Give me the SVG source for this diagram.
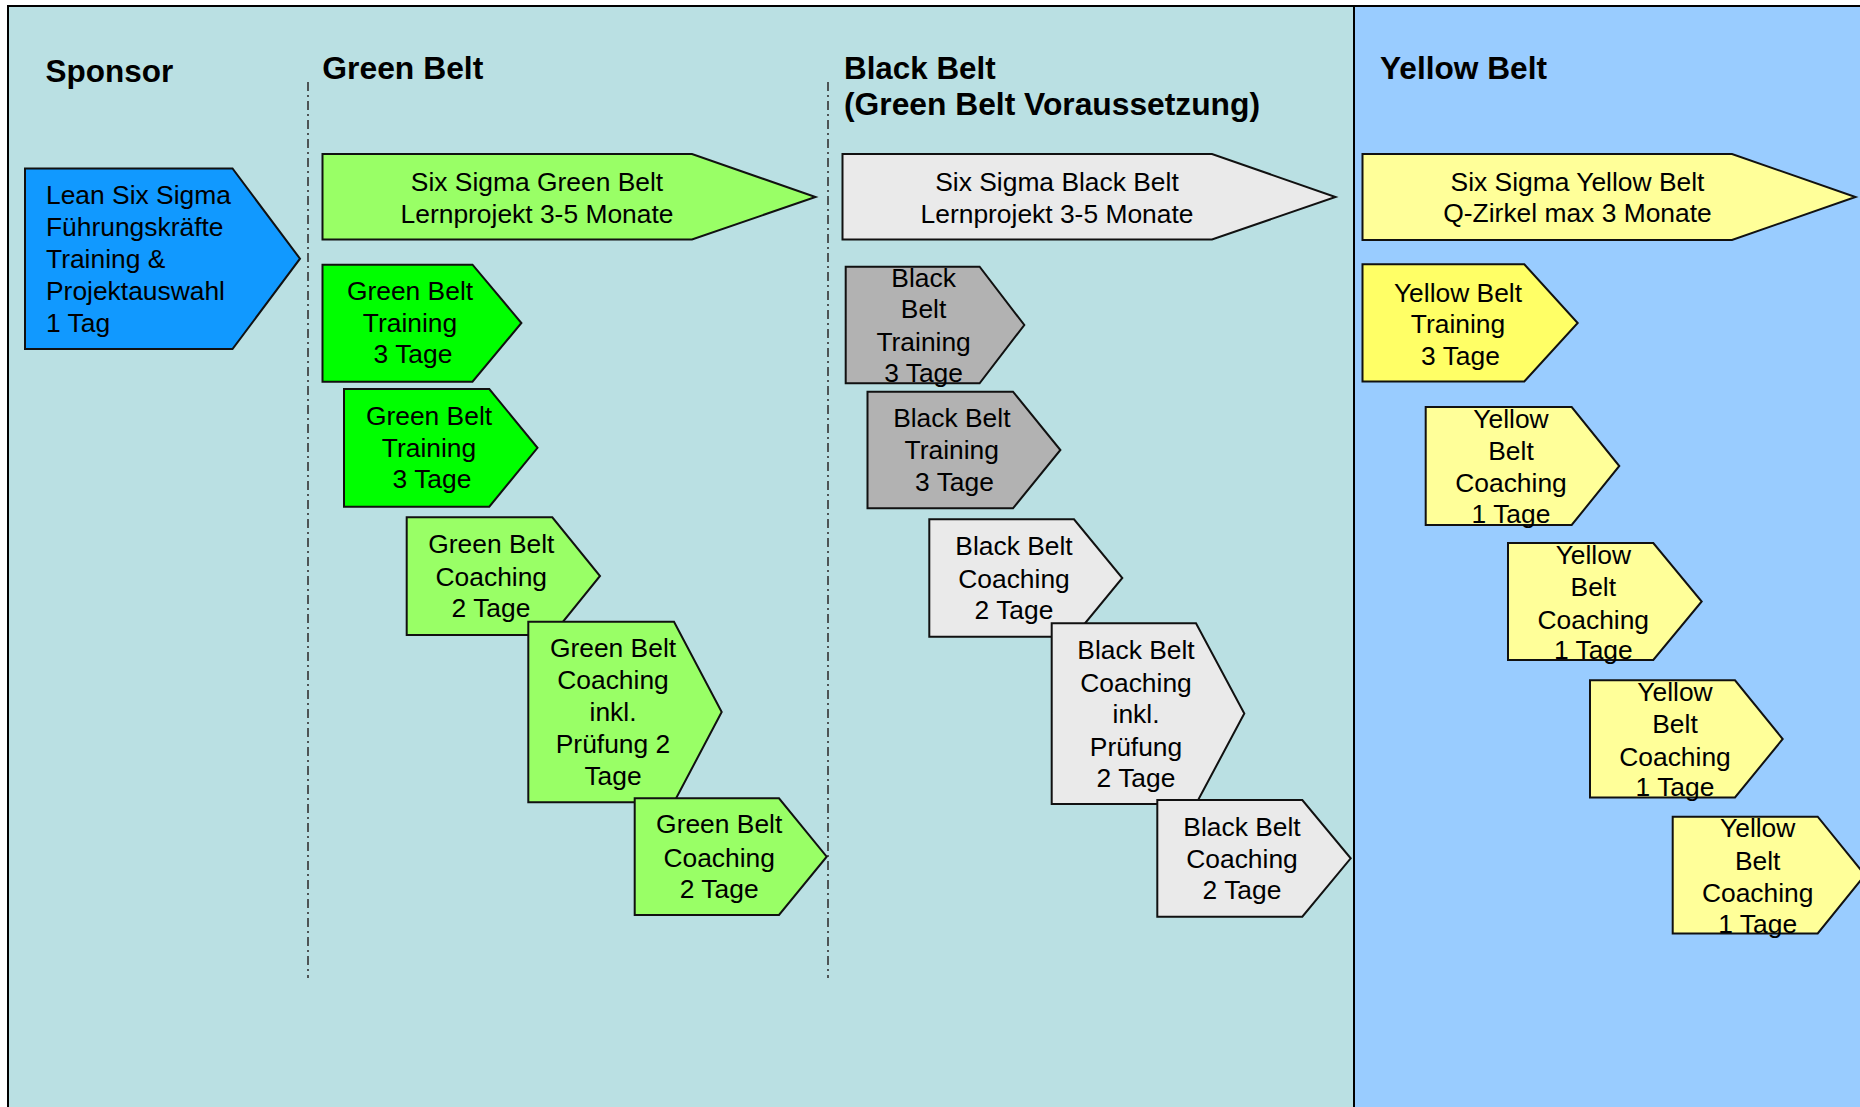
<svg xmlns="http://www.w3.org/2000/svg" width="1860" height="1107" viewBox="0 0 1860 1107">
<style>
.hdr{font-family:"Liberation Sans",Arial,sans-serif;font-weight:bold;font-size:30.5px;fill:#000}
.t{font-family:"Liberation Sans",Arial,sans-serif;font-size:26.4px;fill:#000;text-anchor:middle}
.tl{font-family:"Liberation Sans",Arial,sans-serif;font-size:26.4px;fill:#000}
.s{stroke:#111;stroke-width:2;stroke-linejoin:miter}
.div{stroke:#333;stroke-width:1.6;stroke-dasharray:9 4 2 4;fill:none}
</style>
<rect x="0" y="0" width="1860" height="1107" fill="#fff"/>
<rect x="8" y="6" width="1346" height="1110" fill="#BAE0E3"/>
<rect x="1354" y="6" width="520" height="1110" fill="#99CCFF"/>
<g id="frame">
<line x1="8" y1="6" x2="1860" y2="6" stroke="#000" stroke-width="2"/>
<line x1="8" y1="5" x2="8" y2="1107" stroke="#000" stroke-width="2"/>
<line x1="1354" y1="6" x2="1354" y2="1107" stroke="#000" stroke-width="2"/>
</g>
<g id="dividers">
<line class="div" x1="308" y1="82" x2="308" y2="978"/>
<line class="div" x1="828" y1="82" x2="828" y2="978"/>
</g>
<g id="headers">
<text class="hdr" x="45.5" y="82" textLength="127.7" lengthAdjust="spacingAndGlyphs">Sponsor</text>
<text class="hdr" x="322.3" y="79" textLength="161" lengthAdjust="spacingAndGlyphs">Green Belt</text>
<text class="hdr" x="844" y="79" textLength="151.7" lengthAdjust="spacingAndGlyphs">Black Belt</text>
<text class="hdr" x="844" y="114.5" textLength="416" lengthAdjust="spacingAndGlyphs">(Green Belt Voraussetzung)</text>
<text class="hdr" x="1380" y="79" textLength="167" lengthAdjust="spacingAndGlyphs">Yellow Belt</text>
</g>
<g id="connectors"></g>
<g id="sponsor">
<polygon class="s" fill="#1199FF" points="25,168.5 232.5,168.5 300,258.7 232.5,349 25,349"/>
<text class="tl" x="46" y="204">Lean Six Sigma</text>
<text class="tl" x="46" y="236">Führungskräfte</text>
<text class="tl" x="46" y="268">Training &amp;</text>
<text class="tl" x="46" y="300">Projektauswahl</text>
<text class="tl" x="46" y="332">1 Tag</text>
</g>
<g id="gb-main">
<polygon class="s" fill="#99FF66" points="322.5,154 692,154 815.5,197 692,239.5 322.5,239.5"/>
<text class="t" x="537" y="191">Six Sigma Green Belt</text>
<text class="t" x="537" y="222.5">Lernprojekt 3-5 Monate</text>
</g>
<g id="gb-train1">
<polygon class="s" fill="#00FF00" points="322.5,264.7 472.5,264.7 521.4,323 472.5,381.7 322.5,381.7"/>
<text class="t" x="410" y="300">Green Belt</text>
<text class="t" x="410" y="331.7">Training</text>
<text class="t" x="413" y="363.3">3 Tage</text>
</g>
<g id="gb-train2">
<polygon class="s" fill="#00FF00" points="344,389 489.3,389 537.5,447.8 489.3,506.7 344,506.7"/>
<text class="t" x="429" y="425">Green Belt</text>
<text class="t" x="429" y="456.7">Training</text>
<text class="t" x="432" y="488.3">3 Tage</text>
</g>
<g id="gb-coach1">
<polygon class="s" fill="#99FF66" points="406.7,517.3 552.3,517.3 600,576 552.3,635 406.7,635"/>
<text class="t" x="491.3" y="553.3">Green Belt</text>
<text class="t" x="491.3" y="586">Coaching</text>
<text class="t" x="491" y="617.3">2 Tage</text>
</g>
<g id="gb-coach-pruef">
<polygon class="s" fill="#99FF66" points="528.3,621.7 674,621.7 721.7,712 674,802.3 528.3,802.3"/>
<text class="t" x="613" y="656.7">Green Belt</text>
<text class="t" x="613" y="689">Coaching</text>
<text class="t" x="613" y="721">inkl.</text>
<text class="t" x="613" y="753.3">Prüfung 2</text>
<text class="t" x="613" y="785">Tage</text>
</g>
<g id="gb-coach2">
<polygon class="s" fill="#99FF66" points="634.7,798.3 779,798.3 826.7,856.7 779,915 634.7,915"/>
<text class="t" x="719.2" y="833.3">Green Belt</text>
<text class="t" x="719.2" y="866.7">Coaching</text>
<text class="t" x="719.2" y="898.3">2 Tage</text>
</g>
<g id="bb-main">
<polygon class="s" fill="#EAEAEA" points="842.5,154 1212,154 1335.5,197 1212,239.5 842.5,239.5"/>
<text class="t" x="1057" y="191">Six Sigma Black Belt</text>
<text class="t" x="1057" y="222.5">Lernprojekt 3-5 Monate</text>
</g>
<g id="bb-train1">
<polygon class="s" fill="#B2B2B2" points="845.7,266.7 979.6,266.7 1024.3,325 979.6,383.3 845.7,383.3"/>
<text class="t" x="923.6" y="286.7">Black</text>
<text class="t" x="923.6" y="318.3">Belt</text>
<text class="t" x="923.6" y="350.7">Training</text>
<text class="t" x="923.6" y="382.3">3 Tage</text>
</g>
<g id="bb-train2">
<polygon class="s" fill="#B2B2B2" points="867.5,391.7 1013,391.7 1060.4,450 1013,508.3 867.5,508.3"/>
<text class="t" x="951.8" y="426.7">Black Belt</text>
<text class="t" x="951.8" y="459.3">Training</text>
<text class="t" x="954.5" y="491">3 Tage</text>
</g>
<g id="bb-coach1">
<polygon class="s" fill="#EAEAEA" points="929.3,519.3 1074,519.3 1122.3,578 1074,636.7 929.3,636.7"/>
<text class="t" x="1014" y="555">Black Belt</text>
<text class="t" x="1014" y="587.7">Coaching</text>
<text class="t" x="1014" y="619">2 Tage</text>
</g>
<g id="bb-coach-pruef">
<polygon class="s" fill="#EAEAEA" points="1051.7,623.3 1196,623.3 1244.3,713.5 1196,804 1051.7,804"/>
<text class="t" x="1136" y="659">Black Belt</text>
<text class="t" x="1136" y="691.7">Coaching</text>
<text class="t" x="1136" y="723.3">inkl.</text>
<text class="t" x="1136" y="756">Prüfung</text>
<text class="t" x="1136" y="787.3">2 Tage</text>
</g>
<g id="bb-coach2">
<polygon class="s" fill="#EAEAEA" points="1157.3,800 1302.3,800 1350.7,858.3 1302.3,916.7 1157.3,916.7"/>
<text class="t" x="1242" y="835.7">Black Belt</text>
<text class="t" x="1242" y="867.7">Coaching</text>
<text class="t" x="1242" y="899.3">2 Tage</text>
</g>
<g id="yb-main">
<polygon class="s" fill="#FFFF99" points="1362.5,154 1732,154 1855.5,197 1732,240 1362.5,240"/>
<text class="t" x="1577.5" y="190.5">Six Sigma Yellow Belt</text>
<text class="t" x="1577.5" y="222">Q-Zirkel max 3 Monate</text>
</g>
<g id="yb-train">
<polygon class="s" fill="#FFFF66" points="1362.5,264.3 1524.3,264.3 1577.7,323 1524.3,381.4 1362.5,381.4"/>
<text class="t" x="1458" y="301.5">Yellow Belt</text>
<text class="t" x="1458" y="333">Training</text>
<text class="t" x="1460.5" y="364.5">3 Tage</text>
</g>
<g id="yb-coach1">
<polygon class="s" fill="#FFFF99" points="1425.7,407 1571.7,407 1619.3,466 1571.7,525 1425.7,525"/>
<text class="t" x="1511" y="427.5">Yellow</text>
<text class="t" x="1511" y="459.6">Belt</text>
<text class="t" x="1511" y="491.8">Coaching</text>
<text class="t" x="1511" y="523.2">1 Tage</text>
</g>
<g id="yb-coach2">
<polygon class="s" fill="#FFFF99" points="1508,543 1653.3,543 1701.7,601.5 1653.3,660 1508,660"/>
<text class="t" x="1593.3" y="563.5">Yellow</text>
<text class="t" x="1593.3" y="596">Belt</text>
<text class="t" x="1593.3" y="628.6">Coaching</text>
<text class="t" x="1593.3" y="659.3">1 Tage</text>
</g>
<g id="yb-coach3">
<polygon class="s" fill="#FFFF99" points="1590,680.3 1735,680.3 1782.7,739 1735,797.5 1590,797.5"/>
<text class="t" x="1675" y="700.5">Yellow</text>
<text class="t" x="1675" y="733">Belt</text>
<text class="t" x="1675" y="765.6">Coaching</text>
<text class="t" x="1675" y="796.3">1 Tage</text>
</g>
<g id="yb-coach4">
<polygon class="s" fill="#FFFF99" points="1672.7,816.7 1817.7,816.7 1865,875 1817.7,933.5 1672.7,933.5"/>
<text class="t" x="1757.7" y="837">Yellow</text>
<text class="t" x="1757.7" y="869.5">Belt</text>
<text class="t" x="1757.7" y="902">Coaching</text>
<text class="t" x="1757.7" y="933">1 Tage</text>
</g>
</svg>
